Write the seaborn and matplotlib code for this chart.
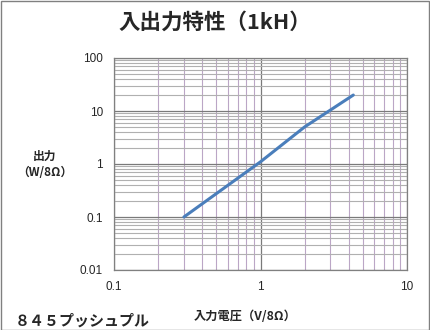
import matplotlib
matplotlib.use("Agg")
import matplotlib.pyplot as plt
import seaborn as sns
import pandas as pd
from matplotlib.ticker import LogLocator, FixedLocator, FixedFormatter, NullFormatter
from matplotlib.patches import Rectangle

input_v = [0.3, 1.0, 2.0, 4.3]
output_w = [0.1, 1.1, 5.0, 20.0]
x_ticks = [0.1, 1, 10]
x_labels = ["0.1", "1", "10"]
y_ticks = [0.01, 0.1, 1, 10, 100]
y_labels = ["0.01", "0.1", "1", "10", "100"]

sns.set_style("white")
plt.rcParams['font.family'] = ['Noto Sans CJK JP', 'DejaVu Sans']

df = pd.DataFrame({"x": input_v, "y": output_w})

fig = plt.figure(figsize=(4.3, 3.3), dpi=100)
ax = fig.add_axes([114/430, 60/330, 293/430, 212/330])
sns.lineplot(data=df, x="x", y="y", ax=ax, color="#4a7ebb", linewidth=2.2)

ax.set_xscale("log")
ax.set_yscale("log")
ax.set_xlim(0.1, 10)
ax.set_ylim(0.01, 100)

ax.xaxis.set_major_locator(FixedLocator(x_ticks))
ax.xaxis.set_major_formatter(FixedFormatter(x_labels))
ax.yaxis.set_major_locator(FixedLocator(y_ticks))
ax.yaxis.set_major_formatter(FixedFormatter(y_labels))
ax.xaxis.set_minor_locator(LogLocator(base=10, subs=range(2, 10)))
ax.yaxis.set_minor_locator(LogLocator(base=10, subs=range(2, 10)))
ax.xaxis.set_minor_formatter(NullFormatter())
ax.yaxis.set_minor_formatter(NullFormatter())

ax.grid(which="major", color="#7a7a7a", linewidth=0.9)
ax.grid(which="minor", axis="x", color="#bba6c6", linewidth=0.8)
ax.grid(which="minor", axis="y", color="#b0b0b0", linewidth=0.8)
ax.set_axisbelow(True)
ax.tick_params(which="both", length=0, labelsize=8.5, pad=8)
for lab in ax.get_xticklabels() + ax.get_yticklabels():
    lab.set_family(['Liberation Sans', 'DejaVu Sans'])
for s in ax.spines.values():
    s.set_color("#808080")
    s.set_linewidth(0.9)

ax.set_xlabel("")
ax.set_ylabel("")

fig.text(0.5, 1 - 22/330, "入出力特性（1kH）", ha="center", va="center",
         fontsize=15.5, fontweight="bold")
fig.text(45/430, 1 - 164/330, "出力\n（W/8Ω）", ha="center", va="center",
         fontsize=8.5, fontweight="bold", linespacing=1.3)
fig.text(245/430, 1 - 316/330, "入力電圧（V/8Ω）", ha="center", va="center",
         fontsize=8.8, fontweight="bold")
fig.text(15/430, 1 - 321/330, "８４５プッシュプル", ha="left", va="center",
         fontsize=10.8, fontweight="bold")

fig.patches.append(Rectangle((0.5/430, 0.5/330), 1 - 1.5/430, 1 - 1.5/330,
                             transform=fig.transFigure, fill=False,
                             edgecolor="#808080", linewidth=1))

fig.savefig("out.png", dpi=100)
